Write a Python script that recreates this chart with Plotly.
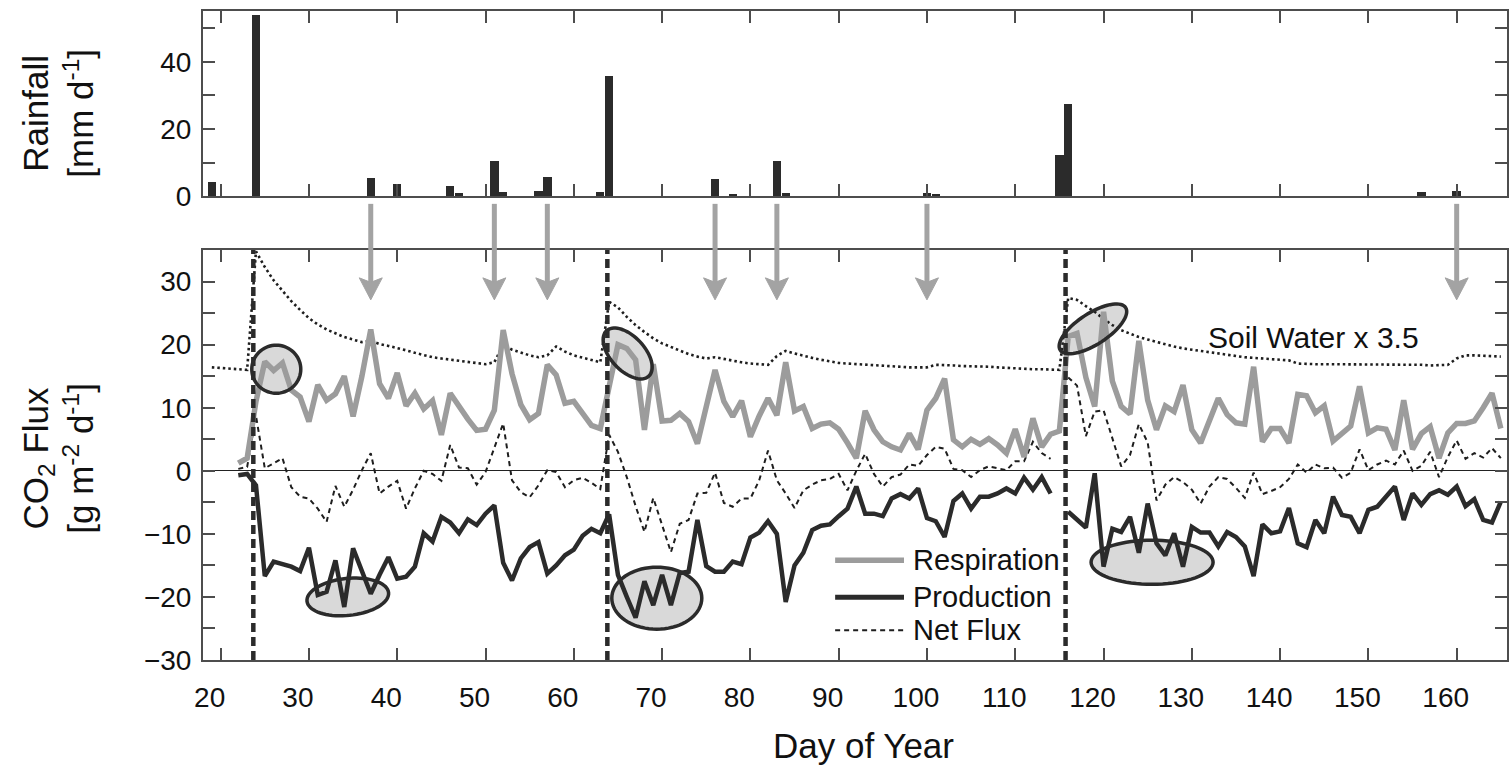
import numpy as np
import plotly.graph_objects as go

# ---------------- data ----------------
rain_days = [19, 24, 37, 40, 46, 47, 51, 52, 56, 57, 63, 64, 76, 78, 83, 84, 100, 101, 115, 116, 156, 160]
rain_mm = [4.1, 54.0, 5.5, 3.7, 3.1, 0.8, 10.5, 1.2, 1.4, 5.8, 1.1, 35.9, 5.0, 0.6, 10.5, 0.8, 0.9, 0.5, 12.1, 27.6, 1.2, 1.6]

flux_days = list(range(22, 166))
respiration = [
    1.2, 2.0, 11.0, 17.3, 15.9, 17.1, 12.8, 11.7, 7.8, 13.6,      # 22-31
    11.2, 12.2, 15.0, 8.6, 15.0, 22.4, 13.8, 11.5, 15.5, 10.3,    # 32-41
    12.3, 9.8, 11.1, 5.7, 12.3, 10.2, 8.2, 6.4, 6.6, 9.6,         # 42-51
    22.3, 15.4, 10.5, 8.1, 9.1, 16.8, 15.2, 10.7, 11.0, 9.1,      # 52-61
    7.2, 6.7, 13.5, 20.0, 19.4, 17.6, 6.5, 16.9, 7.9, 8.0,        # 62-71
    9.1, 7.8, 4.3, 10.2, 16.0, 11.0, 8.6, 11.1, 5.4, 8.7,         # 72-81
    11.5, 8.8, 17.2, 9.5, 10.2, 6.7, 7.4, 7.6, 6.6, 4.4,          # 82-91
    2.0, 9.5, 6.5, 4.6, 3.8, 3.3, 5.9, 3.4, 9.6, 11.5,            # 92-101
    14.6, 4.9, 3.8, 5.0, 4.2, 5.1, 4.1, 2.8, 6.6, 2.2,            # 102-111
    8.3, 3.8, 5.8, 6.3, 21.3, 21.8, 14.8, 10.2, 25.2, 14.2,       # 112-121
    10.2, 9.0, 20.6, 11.2, 6.5, 10.3, 9.4, 13.6, 6.5, 4.4,        # 122-131
    7.9, 11.5, 8.9, 7.6, 7.4, 16.5, 4.6, 6.7, 6.7, 4.4,           # 132-141
    12.1, 11.9, 9.2, 10.3, 4.7, 5.9, 7.1, 13.4, 6.0, 6.8,         # 142-151
    6.6, 3.3, 11.2, 3.4, 5.9, 7.0, 2.0, 6.0, 7.5, 7.5,            # 152-161
    7.9, 10.0, 12.3, 6.7,                                         # 162-165
]
production = [
    -0.7, -0.5, -2.3, -16.7, -14.4, -14.8, -15.2, -15.9, -12.2, -19.7,   # 22-31
    -19.2, -14.2, -21.6, -12.3, -15.8, -19.5, -16.5, -13.7, -17.1, -16.8, # 32-41
    -15.2, -9.9, -11.2, -7.3, -8.2, -9.9, -7.7, -8.6, -6.8, -5.5,         # 42-51
    -14.6, -17.4, -13.9, -12.1, -11.3, -16.3, -15.0, -13.4, -12.5, -10.3, # 52-61
    -9.2, -9.9, -6.9, -16.5, -20.0, -23.3, -17.5, -21.3, -16.5, -21.3,    # 62-71
    -16.2, -16.0, -7.8, -15.1, -16.0, -16.0, -14.4, -14.8, -10.6, -9.8,   # 72-81
    -8.0, -10.0, -20.8, -15.0, -13.0, -9.4, -8.7, -8.5, -7.2, -6.0,       # 82-91
    -2.5, -6.8, -6.8, -7.2, -4.4, -3.7, -4.4, -2.8, -7.5, -8.0,           # 92-101
    -10.5, -4.8, -3.6, -6.0, -4.1, -4.1, -3.6, -2.8, -3.6, -1.1,          # 102-111
    -3.0, -1.0, -3.6, None, -6.5, -7.8, -9.0, -0.4, -15.2, -9.2,          # 112-121
    -9.7, -7.3, -13.0, -5.2, -11.5, -13.4, -9.9, -15.2, -8.9, -9.8,       # 122-131
    -9.8, -12.0, -9.7, -10.5, -12.0, -16.7, -8.5, -9.9, -9.6, -5.9,       # 132-141
    -11.5, -12.1, -7.8, -9.9, -4.1, -7.0, -7.3, -9.9, -6.2, -5.7,         # 142-151
    -4.2, -2.5, -7.8, -3.6, -5.4, -3.7, -3.1, -3.8, -2.5, -5.6,           # 152-161
    -4.5, -7.8, -8.2, -4.9,                                               # 162-165
]
net_flux = [
    0.3, 0.6, 8.7, 0.4, 1.2, 2.0, -2.6, -4.1, -4.4, -6.0,        # 22-31
    -8.1, -2.4, -5.7, -3.0, 0.1, 2.8, -3.6, -2.5, -1.6, -6.0,    # 32-41
    -2.8, 0.0, -0.5, -1.6, 4.1, 0.5, 0.4, -2.2, -0.2, 3.8,       # 42-51
    7.5, -1.5, -3.4, -4.2, -2.3, 0.1, -0.2, -2.6, -1.5, -1.1,    # 52-61
    -1.9, -2.9, 5.7, 3.0, -1.0, -5.6, -9.7, -4.3, -8.5, -12.9,   # 62-71
    -8.4, -7.8, -3.6, -3.5, -0.3, -5.1, -5.7, -4.4, -4.4, -1.5,  # 72-81
    3.2, -1.5, -3.6, -5.9, -3.1, -2.2, -1.5, -1.3, -0.5, -3.1,   # 82-91
    0.0, 2.7, -0.5, -2.5, -1.0, -0.6, 1.0, 0.8, 2.5, 3.8,        # 92-101
    3.5, 0.3, 0.1, -1.0, 0.1, 0.7, 0.4, 0.1, 1.5, 1.5,           # 102-111
    4.6, 2.8, 1.9, None, 14.8, 13.5, 5.5, 9.4, 9.6, 5.0,         # 112-121
    0.7, 2.5, 7.4, 4.5, -4.7, -2.2, -1.0, -1.8, -3.0, -5.2,      # 122-131
    -2.5, -1.0, -1.3, -2.7, -4.3, -0.3, -3.7, -3.2, -2.6, -1.3,  # 132-141
    1.0, -0.3, 1.0, 0.4, 0.5, -1.1, -0.3, 3.4, 0.1, 1.0,         # 142-151
    1.6, 1.0, 3.2, 0.0, 0.8, 3.0, -1.0, 2.2, 4.8, 1.9,           # 152-161
    2.8, 2.1, 3.6, 2.0,                                          # 162-165
]

soil_days = list(range(19, 166))
soil_water_x35 = [
    16.4, 16.3, 16.2, 16.1, 16.0, 34.8, 32.3, 30.2, 28.5, 26.9,  # 19-28
    25.5, 24.2, 23.2, 22.4, 21.8, 21.2, 20.8, 20.4, 20.6, 20.1,  # 29-38
    19.8, 19.5, 19.1, 18.7, 18.3, 18.0, 17.8, 17.6, 17.5, 17.3,  # 39-48
    17.1, 16.9, 17.2, 20.0, 19.2, 18.7, 18.3, 18.0, 18.3, 19.7,  # 49-58
    18.9, 18.3, 17.9, 17.5, 17.2, 26.8, 25.9, 24.4, 23.1, 22.0,  # 59-68
    21.0, 20.2, 19.6, 19.0, 18.5, 18.1, 17.8, 18.0, 17.7, 17.4,  # 69-78
    17.2, 17.0, 16.9, 16.8, 18.2, 19.0, 18.6, 18.2, 17.9, 17.6,  # 79-88
    17.3, 17.1, 17.0, 16.9, 16.8, 16.7, 16.6, 16.5, 16.5, 16.4,  # 89-98
    16.4, 16.4, 16.8, 16.8, 16.7, 16.6, 16.6, 16.5, 16.5, 16.4,  # 99-108
    16.3, 16.3, 16.2, 16.1, 16.1, 16.0, 16.0, 27.4, 27.1, 26.1,  # 109-118
    25.2, 24.1, 23.1, 22.3, 21.7, 21.2, 20.8, 20.4, 20.0, 19.7,  # 119-128
    19.4, 19.2, 18.9, 18.7, 18.5, 18.3, 18.1, 18.0, 17.9, 17.8,  # 129-138
    17.7, 17.6, 17.5, 17.0, 16.9, 16.9, 16.9, 16.9, 16.9, 16.9,  # 139-148
    16.8, 16.8, 16.8, 16.8, 16.8, 16.8, 16.8, 16.8, 16.7, 16.7,  # 149-158
    16.8, 17.8, 18.3, 18.3, 18.2, 18.2, 18.1,                    # 159-165
]

x_ticks = [20, 30, 40, 50, 60, 70, 80, 90, 100, 110, 120, 130, 140, 150, 160]
rain_ticks = [0, 20, 40]
rain_minor_ticks = [10, 30, 50]
flux_ticks = [-30, -20, -10, 0, 10, 20, 30]
flux_minor_ticks = [-25, -15, -5, 5, 15, 25]

pulse_days = [23.7, 63.8, 115.7]             # rain-pulse markers (dashed verticals)
arrow_days = [37, 51, 57, 76, 83, 100, 160]  # smaller rain events

# ---------------- styling ----------------
FONT = "Liberation Sans, Arial, Helvetica, sans-serif"
DARK = "#2b2b2b"
GRAY = "#9c9c9c"
ARROW = "#a3a3a3"
FRAME = "#4d4d4d"
TXT = "#111111"
TICK_FS = 28
LAB_FS = 35

FLUX_RANGE = [-30, 35]
FLUX_DOMAIN = [0, 0.6317]

fig = go.Figure()

fig.add_trace(go.Bar(x=rain_days, y=rain_mm, width=0.95, marker=dict(color=DARK, line=dict(width=0)),
                     xaxis="x", yaxis="y", name="Rainfall", showlegend=False))

fig.add_trace(go.Scatter(x=soil_days, y=soil_water_x35, mode="lines", xaxis="x2", yaxis="y2",
                         line=dict(color="#1e1e1e", width=2.6, dash="2.5px,3px"), name="Soil Water x 3.5",
                         showlegend=False))
fig.add_trace(go.Scatter(x=flux_days, y=net_flux, mode="lines", xaxis="x2", yaxis="y2",
                         line=dict(color="#1e1e1e", width=2, dash="5px,4px"), name="Net Flux",
                         connectgaps=False, showlegend=False))
fig.add_trace(go.Scatter(x=flux_days, y=respiration, mode="lines", xaxis="x2", yaxis="y2",
                         line=dict(color=GRAY, width=5.5), name="Respiration", showlegend=False))
fig.add_trace(go.Scatter(x=flux_days, y=production, mode="lines", xaxis="x2", yaxis="y2",
                         line=dict(color=DARK, width=4.5), name="Production", connectgaps=False,
                         showlegend=False))

x_common = dict(range=[18, 165.7], tickmode="array", tickvals=x_ticks, ticks="inside", ticklen=12,
                tickwidth=2, tickcolor=FRAME, showline=True, linecolor=FRAME, linewidth=2,
                mirror="ticks", showgrid=False, zeroline=False,
                tickfont=dict(family=FONT, size=TICK_FS, color=TXT))
minor_common = dict(ticks="inside", ticklen=12, tickwidth=2, tickcolor=FRAME, showgrid=False)

fig.update_layout(
    width=1510, height=767, autosize=False,
    margin=dict(l=203, r=1, t=11, b=107, pad=0),
    paper_bgcolor="white", plot_bgcolor="white",
    font=dict(family=FONT, color=TXT),
    bargap=0,
    xaxis=dict(x_common, domain=[0, 1], anchor="y", showticklabels=False),
    yaxis=dict(domain=[0.7149, 1.0], range=[0, 55.2], tickmode="array", tickvals=rain_ticks,
               minor=dict(minor_common, tickmode="array", tickvals=rain_minor_ticks),
               ticks="inside", ticklen=12, tickwidth=2, tickcolor=FRAME,
               showline=True, linecolor=FRAME, linewidth=2, mirror="ticks", showgrid=False,
               zeroline=False, ticklabelstandoff=4,
               tickfont=dict(family=FONT, size=TICK_FS, color=TXT)),
    xaxis2=dict(x_common, domain=[0, 1], anchor="y2", matches="x", ticklabelstandoff=11,
                ticklabelshift=-11),
    yaxis2=dict(domain=FLUX_DOMAIN, range=FLUX_RANGE, tickmode="array", tickvals=flux_ticks,
                minor=dict(minor_common, tickmode="array", tickvals=flux_minor_ticks),
                ticks="inside", ticklen=12, tickwidth=2, tickcolor=FRAME,
                showline=True, linecolor=FRAME, linewidth=2, mirror="ticks", showgrid=False,
                zeroline=True, zerolinecolor="#222222", zerolinewidth=1.3, ticklabelstandoff=4,
                tickfont=dict(family=FONT, size=TICK_FS, color=TXT)),
)

# ---- dashed vertical markers at the big rain pulses
for d in pulse_days:
    fig.add_shape(type="line", xref="x2", yref="y2 domain", x0=d, x1=d, y0=0, y1=1,
                  line=dict(color=DARK, width=4.5, dash="9px,5px"), layer="above")


# ---- highlight ellipses (pixel-sized, anchored in data space)
def ellipse_path(a, b, ang_deg, n=72):
    t = np.linspace(0, 2 * np.pi, n, endpoint=False)
    th = np.deg2rad(ang_deg)
    xs = a * np.cos(t) * np.cos(th) - b * np.sin(t) * np.sin(th)
    ys = a * np.cos(t) * np.sin(th) + b * np.sin(t) * np.cos(th)
    pts = [f"{x:.2f},{y:.2f}" for x, y in zip(xs, ys)]
    return "M" + " L".join(pts) + " Z"


ellipses = [  # anchor day, anchor flux, semi-axis a (px), semi-axis b (px), angle (deg)
    (26.3, 16.1, 24.5, 24.0, 0),
    (34.4, -20.0, 41.0, 18.5, 6),
    (66.1, 18.6, 31.0, 17.0, -47),
    (69.4, -20.2, 45.0, 31.0, 0),
    (118.8, 22.5, 39.0, 15.5, 33),
    (125.5, -14.5, 61.0, 22.0, 0),
]
for (xa, ya, a, b, ang) in ellipses:
    p = ellipse_path(a, b, ang)
    fig.add_shape(type="path", path=p, xref="x2", yref="y2", xsizemode="pixel", ysizemode="pixel",
                  xanchor=xa, yanchor=ya, fillcolor="#d9d9d9", line=dict(width=0), layer="below")
    fig.add_shape(type="path", path=p, xref="x2", yref="y2", xsizemode="pixel", ysizemode="pixel",
                  xanchor=xa, yanchor=ya, fillcolor="rgba(0,0,0,0)",
                  line=dict(color=DARK, width=3.5), layer="above")

# ---- grey arrows for the smaller rain events (tip at flux 27.1, tail in the gap between panels)
ARROW_TIP = 27.1
tip_paper = FLUX_DOMAIN[0] + (FLUX_DOMAIN[1] - FLUX_DOMAIN[0]) * (ARROW_TIP - FLUX_RANGE[0]) / (FLUX_RANGE[1] - FLUX_RANGE[0])
for d in arrow_days:
    fig.add_shape(type="line", xref="x2", yref="paper", xsizemode="pixel", ysizemode="pixel",
                  xanchor=d, yanchor=tip_paper, x0=0, x1=0, y0=16, y1=96,
                  line=dict(color=ARROW, width=5), layer="above")
    fig.add_shape(type="path", xref="x2", yref="paper", xsizemode="pixel", ysizemode="pixel",
                  xanchor=d, yanchor=tip_paper, path="M0,0 L-11.5,22 L0,17.5 L11.5,22 Z",
                  fillcolor=ARROW, line=dict(color=ARROW, width=1), layer="above")

# ---- manual legend
legend_items = [("Respiration", GRAY, 5.5, "solid", -14.2),
                ("Production", DARK, 5, "solid", -20.05),
                ("Net Flux", "#1e1e1e", 2, "5px,4px", -25.3)]
for name, col, w, dash, yy in legend_items:
    fig.add_shape(type="line", xref="x2", yref="y2", x0=89.6, x1=97.4, y0=yy, y1=yy,
                  line=dict(color=col, width=w, dash=dash), layer="above")
    fig.add_annotation(x=98.2, y=yy, xref="x2", yref="y2", text=name, showarrow=False,
                       xanchor="left", yanchor="middle", font=dict(family=FONT, size=29, color=TXT))

fig.add_annotation(x=131.6, y=21.1, xref="x2", yref="y2", text="Soil Water x 3.5", showarrow=False,
                   xanchor="left", yanchor="middle", font=dict(family=FONT, size=30, color=TXT))

# ---- axis titles
fig.add_annotation(x=(57.5 - 203) / 1306, y=(660 - 113) / 649, xref="paper", yref="paper",
                   text="Rainfall<br>[mm d<sup>-1</sup>]", showarrow=False, textangle=-90,
                   xanchor="center", yanchor="middle", font=dict(family=FONT, size=LAB_FS, color=TXT))
fig.add_annotation(x=(57.5 - 203) / 1306, y=(660 - 458) / 649, xref="paper", yref="paper",
                   text="CO<sub>2</sub> Flux<br>[g m<sup>-2</sup> d<sup>-1</sup>]", showarrow=False,
                   textangle=-90, xanchor="center", yanchor="middle",
                   font=dict(family=FONT, size=LAB_FS, color=TXT))
fig.add_annotation(x=(865 - 203) / 1306, y=(660 - 745) / 649, xref="paper", yref="paper",
                   text="Day of Year", showarrow=False, xanchor="center", yanchor="middle",
                   font=dict(family=FONT, size=LAB_FS, color=TXT))

fig.write_html("out.html")
